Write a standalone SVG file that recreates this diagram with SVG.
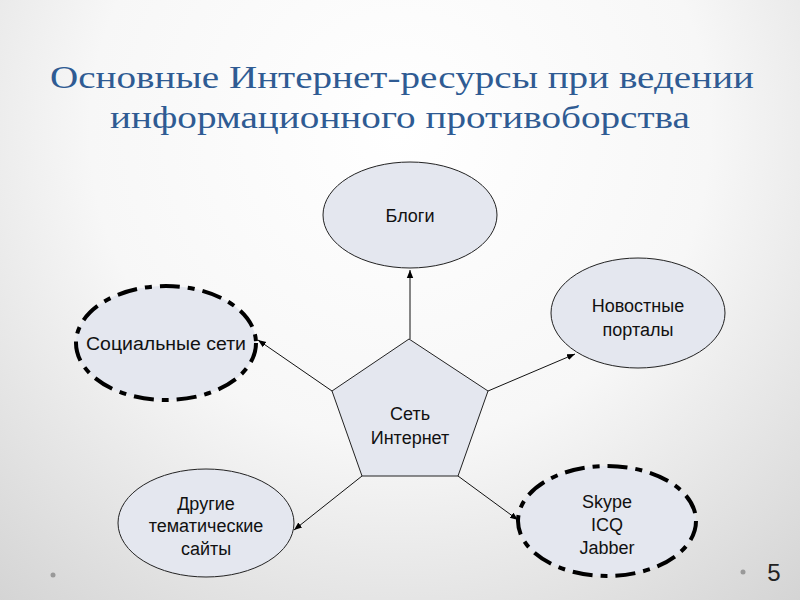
<svg xmlns="http://www.w3.org/2000/svg" width="800" height="600" viewBox="0 0 800 600">
<defs>
<radialGradient id="bg" cx="400" cy="130" r="620" gradientUnits="userSpaceOnUse">
<stop offset="0" stop-color="#ffffff"/>
<stop offset="0.5" stop-color="#f7f7f7"/>
<stop offset="1" stop-color="#d4d4d4"/>
</radialGradient>
<marker id="arr" viewBox="0 0 10 10" refX="10" refY="5" markerWidth="8" markerHeight="8" orient="auto" markerUnits="userSpaceOnUse">
<path d="M0,1 L10,5 L0,9 z" fill="#000"/>
</marker>
</defs>
<style>
.title{font-family:"Liberation Serif","DejaVu Serif",serif;font-size:32px;fill:#2f5b93;text-anchor:middle}
.shape{fill:#e4e7ef;stroke:#222;stroke-width:1}
.dashed{fill:#e4e7ef;stroke:#000;stroke-width:4;stroke-dasharray:20 8 7 8}
.lbl{font-family:"Liberation Sans",Arial,sans-serif;font-size:18px;fill:#111;text-anchor:middle}
.conn line{stroke:#111;stroke-width:1;marker-end:url(#arr)}
</style>
<rect width="800" height="600" fill="url(#bg)"/>
<text class="title" x="402" y="88" textLength="704" lengthAdjust="spacingAndGlyphs">Основные Интернет-ресурсы при ведении</text>
<text class="title" x="400" y="128" textLength="580" lengthAdjust="spacingAndGlyphs">информационного противоборства</text>
<g id="conn" class="conn">
<line x1="410" y1="339" x2="410" y2="270"/>
<line x1="332" y1="391" x2="258" y2="340"/>
<line x1="488" y1="391" x2="575" y2="354"/>
<line x1="362" y1="476" x2="294" y2="530"/>
<line x1="458" y1="476" x2="518" y2="520"/>
</g>
<g id="blogs">
<ellipse class="shape" cx="410" cy="215" rx="87" ry="53"/>
<text class="lbl" x="410" y="222">Блоги</text>
</g>
<g id="social">
<ellipse class="dashed" cx="166" cy="343" rx="90" ry="57"/>
<text class="lbl" x="166" y="350" textLength="160" lengthAdjust="spacingAndGlyphs">Социальные сети</text>
</g>
<g id="news">
<ellipse class="shape" cx="638" cy="313" rx="87" ry="55"/>
<text class="lbl" x="638" y="312">Новостные</text>
<text class="lbl" x="638" y="336">порталы</text>
</g>
<g id="internet">
<polygon class="shape" points="409,339 488,391 458,476 362,476 332,391"/>
<text class="lbl" x="410" y="420">Сеть</text>
<text class="lbl" x="410" y="444">Интернет</text>
</g>
<g id="other">
<ellipse class="shape" cx="206" cy="523" rx="88" ry="54"/>
<text class="lbl" x="206" y="510">Другие</text>
<text class="lbl" x="206" y="532">тематические</text>
<text class="lbl" x="206" y="555">сайты</text>
</g>
<g id="messengers">
<ellipse class="dashed" cx="607" cy="521" rx="89" ry="55"/>
<text class="lbl" x="607" y="508">Skype</text>
<text class="lbl" x="607" y="531">ICQ</text>
<text class="lbl" x="607" y="554">Jabber</text>
</g>
<circle cx="53" cy="575" r="2.5" fill="#999"/>
<circle cx="743" cy="572" r="2.5" fill="#999"/>
<text x="774" y="581" font-family="Liberation Sans,Arial,sans-serif" font-size="24" fill="#222" text-anchor="middle">5</text>
</svg>
